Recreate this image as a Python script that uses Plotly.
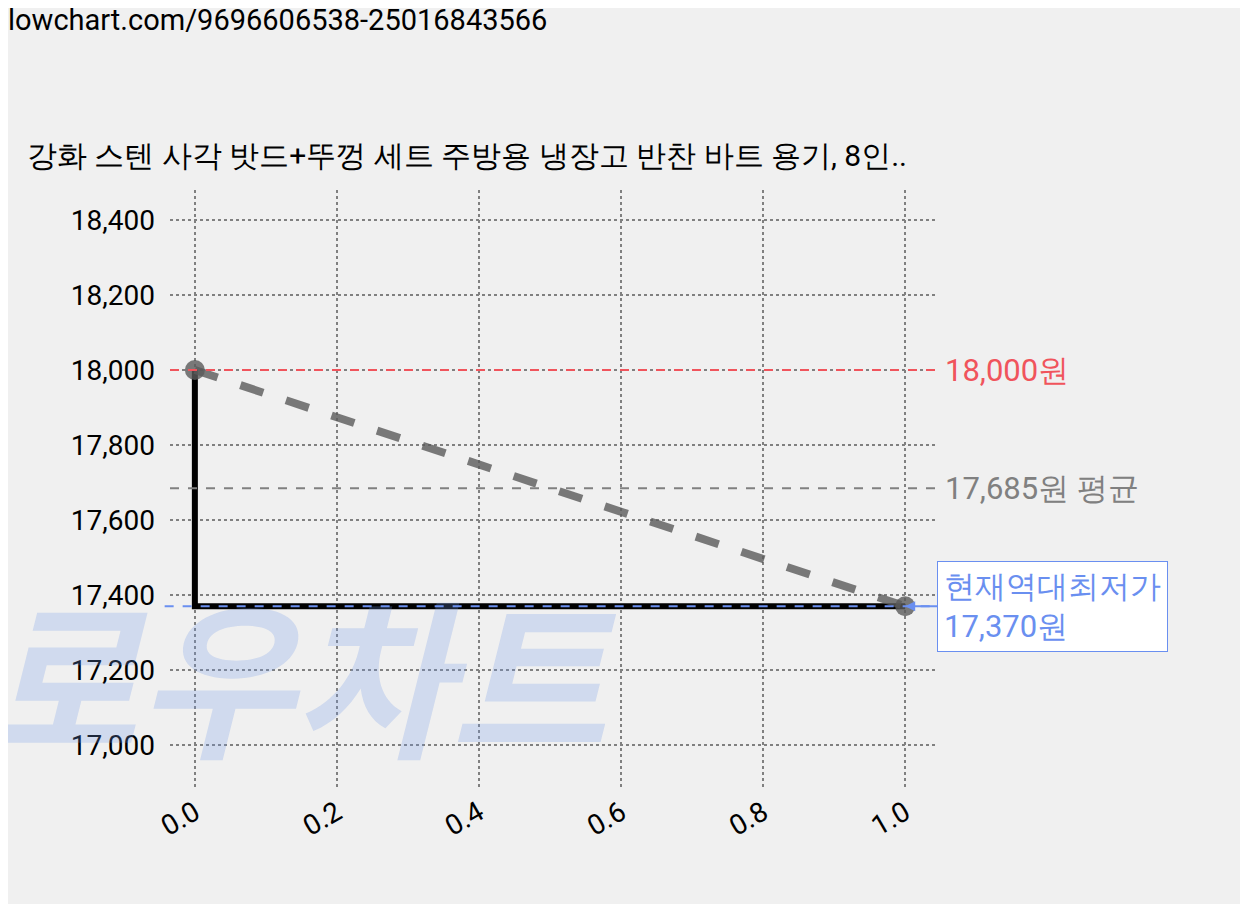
import plotly.graph_objects as go

x_pts = [0.0, 1.0]
prices = [18000, 17370]
avg_price = 17685
max_price = 18000
min_price = 17370
y_ticks = [17000, 17200, 17400, 17600, 17800, 18000, 18200, 18400]
x_ticks = [0.0, 0.2, 0.4, 0.6, 0.8, 1.0]

F = "Roboto"
fig = go.Figure()
xr = [-0.035, 1.042]
fig.add_trace(go.Scatter(x=[x_pts[0], x_pts[0], x_pts[1]], y=[prices[0], prices[1], prices[1]],
                         mode="lines", line=dict(color="black", width=6), showlegend=False))
fig.add_trace(go.Scatter(x=x_pts, y=prices, mode="lines+markers",
                         line=dict(color="rgba(90,90,90,0.8)", width=8, dash="dash"),
                         marker=dict(size=20, color="rgba(90,90,90,0.8)"), showlegend=False))
for yv, col in [(max_price, "#f0545c"), (avg_price, "#808080")]:
    fig.add_shape(type="line", xref="paper", x0=0, x1=1, y0=yv, y1=yv,
                  line=dict(color=col, width=2, dash="dash"))
fig.add_shape(type="line", xref="paper", x0=-0.007, x1=1, y0=min_price, y1=min_price,
              line=dict(color="#6a8ff0", width=2, dash="dash"))
fig.add_annotation(xref="paper", x=1.01, y=max_price, text=f"{max_price:,}원", showarrow=False,
                   xanchor="left", font=dict(family=F, size=31, color="#f0545c"))
fig.add_annotation(xref="paper", x=1.01, y=avg_price, text=f"{avg_price:,}원 평균", showarrow=False,
                   xanchor="left", font=dict(family=F, size=31, color="#808080"))
fig.add_annotation(x=x_pts[1], y=min_price, text=f"현재역대최저가<br>{min_price:,}원",
                   showarrow=True, arrowhead=2, arrowcolor="#6a8ff0", arrowwidth=2,
                   ax=32, ay=0, xanchor="left", yanchor="middle", align="left",
                   bordercolor="#6a8ff0", borderwidth=1, bgcolor="white", borderpad=6,
                   font=dict(family=F, size=31, color="#6a8ff0"))
fig.add_annotation(xref="paper", yref="paper", x=-0.25, y=-0.01, text="<b><i>로우차트</i></b>",
                   showarrow=False, xanchor="left", yanchor="bottom",
                   font=dict(family="Noto Sans CJK KR", size=170, color="rgba(110,150,230,0.25)"))
fig.add_annotation(xref="paper", yref="paper", x=-0.19, y=1.025, yanchor="bottom", xanchor="left",
                   text="강화 스텐 사각 밧드+뚜껑 세트 주방용 냉장고 반찬 바트 용기, 8인..",
                   showarrow=False, font=dict(family=F, size=30, color="black"))
fig.update_layout(
    width=1232, height=896, paper_bgcolor="#f0f0f0", plot_bgcolor="#f0f0f0",
    margin=dict(l=162, r=305, t=182, b=114),
    title=dict(text="lowchart.com/9696606538-25016843566", x=0.0, y=0.998, xanchor="left", yanchor="top",
               font=dict(family=F, size=29, color="black")),
    xaxis=dict(range=xr, tickvals=x_ticks, ticktext=[f"{v:.1f}" for v in x_ticks], tickangle=-30,
               showgrid=True, gridcolor="#808080", griddash="dot", gridwidth=2, zeroline=False,
               showline=False, ticks="", tickfont=dict(family=F, size=28, color="black")),
    yaxis=dict(range=[16880, 18480], tickvals=y_ticks, tickformat=",", showgrid=True,
               gridcolor="#808080", griddash="dot", gridwidth=2, zeroline=False, showline=False,
               ticks="", ticklabelstandoff=14, tickfont=dict(family=F, size=28, color="black")),
)
fig.write_html("out.html")
